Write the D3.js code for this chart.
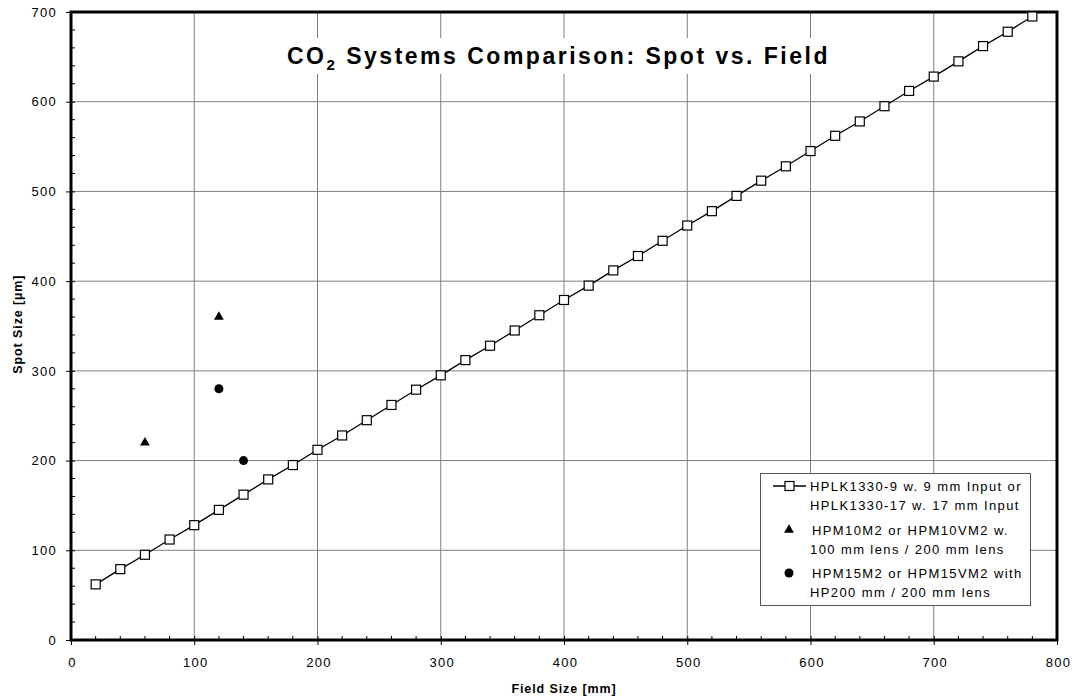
<!DOCTYPE html>
<html>
<head>
<meta charset="utf-8">
<script src="https://cdn.jsdelivr.net/npm/d3@7"></script>
<style>
  body { margin: 0; background: #fff; }
  svg { font-family: "Liberation Sans", Arial, sans-serif; }
</style>
</head>
<body>
<svg id="chart" width="1078" height="698"></svg>
<script>
// line series: HPLK1330
var fieldSizes = [20, 40, 60, 80, 100, 120, 140, 160, 180, 200, 220, 240, 260, 280, 300, 320, 340, 360, 380, 400,
  420, 440, 460, 480, 500, 520, 540, 560, 580, 600, 620, 640, 660, 680, 700, 720, 740, 760, 780];
var spotSizes = [62, 79, 95, 112, 128, 145, 162, 179, 195, 212, 228, 245, 262, 279, 295, 312, 328, 345, 362, 379,
  395, 412, 428, 445, 462, 478, 495, 512, 528, 545, 562, 578, 595, 612, 628, 645, 662, 678, 695];
// HPM10M2 triangles
var triX = [60, 120];
var triY = [220, 360];
// HPM15M2 circles
var circX = [120, 140];
var circY = [280, 200];

var xTicks = [0, 100, 200, 300, 400, 500, 600, 700, 800];
var yTicks = [0, 100, 200, 300, 400, 500, 600, 700];

var svg = d3.select("#chart");
var margin = { left: 71, right: 21, top: 12, bottom: 58 };
var width = 1078 - margin.left - margin.right;
var height = 698 - margin.top - margin.bottom;

var x = d3.scaleLinear().domain([0, 800]).range([margin.left, margin.left + width]);
var y = d3.scaleLinear().domain([0, 700]).range([margin.top + height, margin.top]);

// gridlines
var grid = svg.append("g").attr("class", "grid");
grid.selectAll("line.gx")
  .data(xTicks.slice(1, -1))
  .join("line")
  .attr("x1", function (d) { return x(d); })
  .attr("x2", function (d) { return x(d); })
  .attr("y1", y(0))
  .attr("y2", y(700))
  .style("stroke", "#808080")
  .style("stroke-width", 1);
grid.selectAll("line.gy")
  .data(yTicks.slice(1, -1))
  .join("line")
  .attr("x1", x(0))
  .attr("x2", x(800))
  .attr("y1", function (d) { return y(d); })
  .attr("y2", function (d) { return y(d); })
  .style("stroke", "#808080")
  .style("stroke-width", 1);

// title with white box behind it
var title = svg.append("g");
title.append("rect")
  .attr("x", 272).attr("y", 38)
  .attr("width", 578).attr("height", 36)
  .style("fill", "#fff");
var t = title.append("text")
  .attr("x", 287).attr("y", 64)
  .style("font-size", "23px")
  .style("font-weight", "bold")
  .style("letter-spacing", "2.5px");
t.append("tspan").text("CO");
t.append("tspan").attr("dy", 6).style("font-size", "15px").text("2");
t.append("tspan").attr("dy", -6).text(" Systems Comparison: Spot vs. Field");

// minor ticks (inside)
var minorX = d3.range(20, 800, 20).filter(function (d) { return d % 100 !== 0; });
var minorY = d3.range(20, 700, 20).filter(function (d) { return d % 100 !== 0; });
svg.append("g").selectAll("line")
  .data(minorX)
  .join("line")
  .attr("x1", function (d) { return x(d); })
  .attr("x2", function (d) { return x(d); })
  .attr("y1", y(0))
  .attr("y2", y(0) - 4)
  .style("stroke", "#000");
svg.append("g").selectAll("line")
  .data(minorY)
  .join("line")
  .attr("x1", x(0))
  .attr("x2", x(0) + 4)
  .attr("y1", function (d) { return y(d); })
  .attr("y2", function (d) { return y(d); })
  .style("stroke", "#000");

// axes
var xAxis = svg.append("g")
  .attr("transform", "translate(0," + y(0) + ")")
  .call(d3.axisBottom(x).tickValues(xTicks).tickSize(4).tickSizeOuter(0).tickPadding(14));
var yAxis = svg.append("g")
  .attr("transform", "translate(" + x(0) + ",0)")
  .call(d3.axisLeft(y).tickValues(yTicks).tickSize(4).tickSizeOuter(0).tickPadding(10));
[xAxis, yAxis].forEach(function (a) {
  a.select(".domain").remove();
  a.selectAll("text")
    .style("font-family", "'Liberation Sans', Arial, sans-serif")
    .style("font-size", "13px")
    .style("letter-spacing", "1.3px")
    .style("fill", "#000");
  a.selectAll(".tick line").style("stroke", "#000").attr("stroke-width", 1);
});
xAxis.selectAll("text").attr("dx", "1px");
xAxis.selectAll(".tick line").attr("y1", -4).attr("y2", 5);
yAxis.selectAll(".tick line").attr("x1", 4).attr("x2", -5);

// plot border
svg.append("rect")
  .attr("x", x(0)).attr("y", y(700))
  .attr("width", x(800) - x(0)).attr("height", y(0) - y(700))
  .style("fill", "none")
  .style("stroke", "#000")
  .style("stroke-width", 3);

// axis titles
svg.append("text")
  .attr("x", x(400)).attr("y", 693)
  .attr("text-anchor", "middle")
  .style("font-size", "12.5px")
  .style("font-weight", "bold")
  .style("letter-spacing", "0.9px")
  .text("Field Size [mm]");
svg.append("text")
  .attr("transform", "translate(22," + y(352) + ") rotate(-90)")
  .attr("text-anchor", "middle")
  .style("font-size", "12.5px")
  .style("font-weight", "bold")
  .style("letter-spacing", "0.9px")
  .text("Spot Size [µm]");

// line series
var lineData = fieldSizes.map(function (f, i) { return [f, spotSizes[i]]; });
svg.append("path")
  .datum(lineData)
  .attr("d", d3.line().x(function (d) { return x(d[0]); }).y(function (d) { return y(d[1]); }))
  .style("fill", "none")
  .style("stroke", "#000")
  .style("stroke-width", 1.3);
svg.append("g").selectAll("rect")
  .data(lineData)
  .join("rect")
  .attr("x", function (d) { return x(d[0]) - 4.5; })
  .attr("y", function (d) { return y(d[1]) - 4.5; })
  .attr("width", 9).attr("height", 9)
  .style("fill", "#fff")
  .style("stroke", "#000")
  .style("stroke-width", 1.2);

var triangle = d3.symbol().type(d3.symbolTriangle).size(42);
svg.append("g").selectAll("path")
  .data(triX.map(function (f, i) { return [f, triY[i]]; }))
  .join("path")
  .attr("d", triangle)
  .attr("transform", function (d) { return "translate(" + x(d[0]) + "," + y(d[1]) + ")"; })
  .style("fill", "#000");
svg.append("g").selectAll("circle")
  .data(circX.map(function (f, i) { return [f, circY[i]]; }))
  .join("circle")
  .attr("cx", function (d) { return x(d[0]); })
  .attr("cy", function (d) { return y(d[1]); })
  .attr("r", 4.5)
  .style("fill", "#000");

// legend
var legend = svg.append("g");
legend.append("rect")
  .attr("x", 760.5).attr("y", 473.5)
  .attr("width", 270).attr("height", 132)
  .style("fill", "#fff")
  .style("stroke", "#555")
  .style("stroke-width", 1);
legend.append("line")
  .attr("x1", 773).attr("x2", 806).attr("y1", 486).attr("y2", 486)
  .style("stroke", "#000").style("stroke-width", 1.3);
legend.append("rect")
  .attr("x", 785).attr("y", 481.5).attr("width", 9).attr("height", 9)
  .style("fill", "#fff").style("stroke", "#000").style("stroke-width", 1.2);
legend.append("path")
  .attr("d", triangle)
  .attr("transform", "translate(789,530)")
  .style("fill", "#000");
legend.append("circle")
  .attr("cx", 789).attr("cy", 573).attr("r", 4.5)
  .style("fill", "#000");

var legendLines = [
  ["HPLK1330-9 w. 9 mm Input or", 810, 491],
  ["HPLK1330-17 w. 17 mm Input", 810, 510],
  ["HPM10M2 or HPM10VM2 w.", 812, 535],
  ["100 mm lens / 200 mm lens", 810, 554],
  ["HPM15M2 or HPM15VM2 with", 812, 578],
  ["HP200 mm / 200 mm lens", 810, 597]
];
legend.selectAll("text.l")
  .data(legendLines)
  .join("text")
  .attr("x", function (d) { return d[1]; })
  .attr("y", function (d) { return d[2]; })
  .style("font-size", "13px")
  .style("letter-spacing", "1.4px")
  .text(function (d) { return d[0]; });
</script>
</body>
</html>
